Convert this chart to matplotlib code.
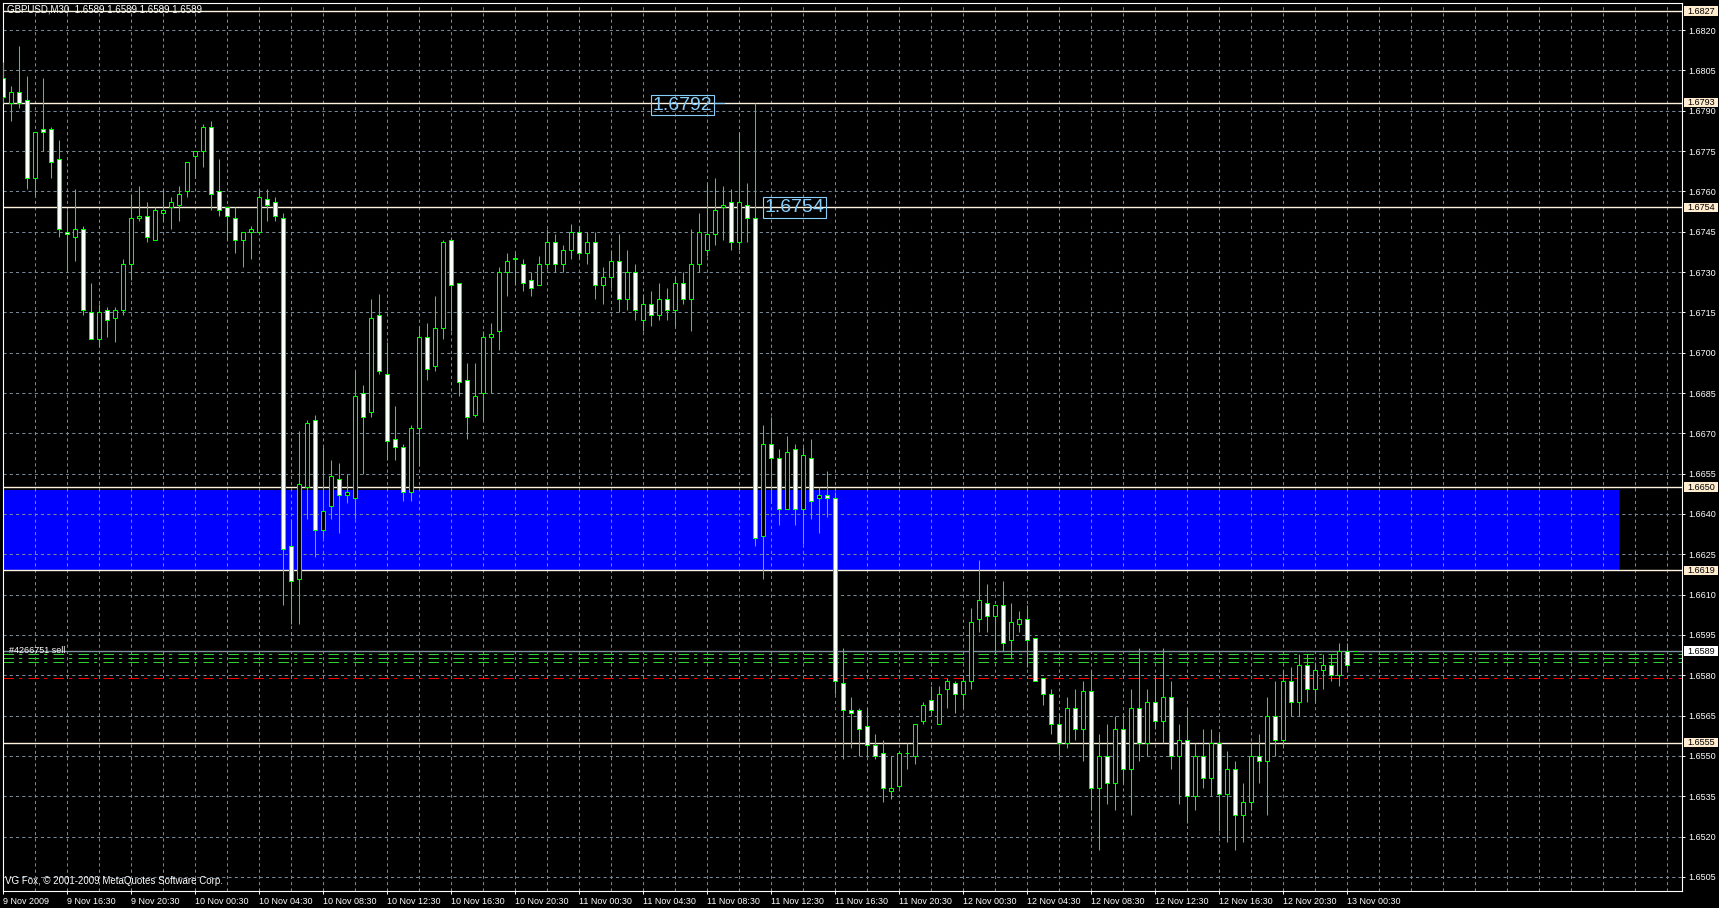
import numpy as np
import matplotlib.pyplot as plt
from matplotlib.patches import Rectangle
from matplotlib import transforms

plt.rcParams['font.family'] = ['Liberation Sans', 'DejaVu Sans']

# GBPUSD M30 bars, 9 Nov 12:30 .. 13 Nov 01:00
opens = [1.6802, 1.6793, 1.6797, 1.6794, 1.6765, 1.6783, 1.6783, 1.6772, 1.6745, 1.6743,
         1.6746, 1.6715, 1.6705, 1.6716, 1.6713, 1.6716, 1.6733, 1.6750, 1.6751, 1.6742,
         1.6752, 1.6754, 1.6755, 1.6760, 1.6773, 1.6775, 1.6784, 1.6760, 1.6754, 1.6750,
         1.6742, 1.6745, 1.6745, 1.6757, 1.6756, 1.6750, 1.6628, 1.6616, 1.6650, 1.6675,
         1.6634, 1.6643, 1.6653, 1.6647, 1.6646, 1.6685, 1.6678, 1.6714, 1.6692, 1.6668,
         1.6665, 1.6648, 1.6672, 1.6706, 1.6695, 1.6709, 1.6742, 1.6726, 1.6690, 1.6677,
         1.6685, 1.6706, 1.6708, 1.6730, 1.6735, 1.6733, 1.6727, 1.6725, 1.6733, 1.6741,
         1.6733, 1.6738, 1.6745, 1.6737, 1.6741, 1.6725, 1.6728, 1.6734, 1.6720, 1.6730,
         1.6712, 1.6718, 1.6714, 1.6720, 1.6716, 1.6726, 1.6720, 1.6733, 1.6738, 1.6744,
         1.6754, 1.6756, 1.6741, 1.6755, 1.6750, 1.6632, 1.6666, 1.6661, 1.6642, 1.6664,
         1.6642, 1.6661, 1.6646, 1.6647, 1.6646, 1.6577, 1.6567, 1.6567, 1.6561, 1.6554,
         1.6551, 1.6537, 1.6539, 1.6551, 1.6550, 1.6563, 1.6571, 1.6562, 1.6575, 1.6577,
         1.6573, 1.6578, 1.6601, 1.6607, 1.6602, 1.6606, 1.6593, 1.6599, 1.6601, 1.6594,
         1.6579, 1.6573, 1.6562, 1.6555, 1.6568, 1.6560, 1.6574, 1.6538, 1.6550, 1.6540,
         1.6560, 1.6545, 1.6568, 1.6555, 1.6570, 1.6563, 1.6572, 1.6550, 1.6556, 1.6535,
         1.6550, 1.6542, 1.6555, 1.6536, 1.6545, 1.6528, 1.6533, 1.6550, 1.6548, 1.6565,
         1.6556, 1.6578, 1.6570, 1.6584, 1.6575, 1.6582, 1.6584, 1.6580, 1.6589, 1.6589]
highs = [1.6808, 1.6799, 1.6814, 1.6803, 1.6782, 1.6802, 1.6784, 1.6779, 1.6753, 1.6761,
         1.6747, 1.6726, 1.6718, 1.6717, 1.6717, 1.6735, 1.6759, 1.6762, 1.6756, 1.6754,
         1.6761, 1.6758, 1.6762, 1.6771, 1.6775, 1.6785, 1.6786, 1.6772, 1.6754, 1.6754,
         1.6745, 1.6747, 1.6761, 1.6761, 1.6758, 1.6752, 1.6638, 1.6671, 1.6675, 1.6677,
         1.6665, 1.6660, 1.6659, 1.6655, 1.6693, 1.6688, 1.6720, 1.6722, 1.6704, 1.6680,
         1.6666, 1.6673, 1.6710, 1.6711, 1.6721, 1.6742, 1.6743, 1.6726, 1.6696, 1.6696,
         1.6708, 1.6711, 1.6732, 1.6737, 1.6737, 1.6735, 1.6730, 1.6736, 1.6746, 1.6744,
         1.6740, 1.6748, 1.6747, 1.6745, 1.6745, 1.6732, 1.6738, 1.6744, 1.6738, 1.6733,
         1.6722, 1.6723, 1.6726, 1.6724, 1.6728, 1.6730, 1.6746, 1.6752, 1.6763, 1.6765,
         1.6762, 1.6761, 1.6782, 1.6763, 1.6793, 1.6673, 1.6676, 1.6664, 1.6669, 1.6666,
         1.6665, 1.6668, 1.6650, 1.6656, 1.6648, 1.6590, 1.6572, 1.6568, 1.6568, 1.6558,
         1.6556, 1.6550, 1.6552, 1.6555, 1.6562, 1.6570, 1.6576, 1.6576, 1.6579, 1.6578,
         1.6580, 1.6605, 1.6623, 1.6614, 1.6606, 1.6615, 1.6607, 1.6604, 1.6606, 1.6594,
         1.6579, 1.6575, 1.6566, 1.6572, 1.6575, 1.6578, 1.6582, 1.6558, 1.6562, 1.6565,
         1.6566, 1.6575, 1.6590, 1.6575, 1.6580, 1.6590, 1.6578, 1.6562, 1.6568, 1.6555,
         1.6560, 1.6560, 1.6558, 1.6552, 1.6548, 1.6540, 1.6555, 1.6558, 1.6572, 1.6578,
         1.6582, 1.6583, 1.6588, 1.6588, 1.6585, 1.6588, 1.6588, 1.6592, 1.6592, 1.6589]
lows = [1.6793, 1.6786, 1.6791, 1.6761, 1.6758, 1.6775, 1.6765, 1.6743, 1.6730, 1.6734,
        1.6714, 1.6705, 1.6702, 1.6706, 1.6704, 1.6714, 1.6727, 1.6749, 1.6741, 1.6742,
        1.6749, 1.6746, 1.6749, 1.6758, 1.6765, 1.6769, 1.6753, 1.6751, 1.6742, 1.6737,
        1.6732, 1.6735, 1.6745, 1.6749, 1.6749, 1.6606, 1.6599, 1.6599, 1.6638, 1.6624,
        1.6631, 1.6638, 1.6633, 1.6644, 1.6638, 1.6655, 1.6676, 1.6692, 1.6660, 1.6660,
        1.6645, 1.6645, 1.6658, 1.6690, 1.6693, 1.6705, 1.6708, 1.6684, 1.6668, 1.6676,
        1.6675, 1.6685, 1.6701, 1.6721, 1.6725, 1.6723, 1.6721, 1.6725, 1.6731, 1.6730,
        1.6730, 1.6735, 1.6735, 1.6733, 1.6720, 1.6718, 1.6724, 1.6715, 1.6716, 1.6712,
        1.6708, 1.6710, 1.6712, 1.6712, 1.6710, 1.6718, 1.6708, 1.6730, 1.6736, 1.6740,
        1.6742, 1.6738, 1.6738, 1.6741, 1.6628, 1.6616, 1.6644, 1.6636, 1.6642, 1.6636,
        1.6629, 1.6638, 1.6633, 1.6639, 1.6573, 1.6549, 1.6553, 1.6550, 1.6550, 1.6549,
        1.6533, 1.6534, 1.6538, 1.6545, 1.6547, 1.6562, 1.6566, 1.6562, 1.6568, 1.6566,
        1.6568, 1.6575, 1.6596, 1.6596, 1.6588, 1.6589, 1.6586, 1.6596, 1.6583, 1.6578,
        1.6569, 1.6558, 1.6550, 1.6553, 1.6556, 1.6548, 1.6530, 1.6515, 1.6532, 1.6530,
        1.6540, 1.6528, 1.6548, 1.6550, 1.6560, 1.6555, 1.6545, 1.6532, 1.6525, 1.6530,
        1.6538, 1.6535, 1.6522, 1.6518, 1.6515, 1.6518, 1.6530, 1.6540, 1.6528, 1.6550,
        1.6553, 1.6565, 1.6565, 1.6570, 1.6570, 1.6575, 1.6578, 1.6576, 1.6582, 1.6589]
closes = [1.6795, 1.6797, 1.6793, 1.6765, 1.6782, 1.6782, 1.6771, 1.6746, 1.6744, 1.6746,
          1.6716, 1.6705, 1.6715, 1.6712, 1.6716, 1.6733, 1.6750, 1.6751, 1.6743, 1.6753,
          1.6753, 1.6756, 1.6759, 1.6771, 1.6775, 1.6784, 1.6759, 1.6753, 1.6751, 1.6742,
          1.6745, 1.6746, 1.6758, 1.6755, 1.6751, 1.6627, 1.6615, 1.6651, 1.6674, 1.6634,
          1.6641, 1.6654, 1.6647, 1.6648, 1.6684, 1.6676, 1.6713, 1.6693, 1.6667, 1.6665,
          1.6648, 1.6672, 1.6706, 1.6694, 1.6709, 1.6741, 1.6725, 1.6689, 1.6676, 1.6684,
          1.6706, 1.6707, 1.6730, 1.6734, 1.6735, 1.6726, 1.6724, 1.6733, 1.6741, 1.6733,
          1.6738, 1.6745, 1.6737, 1.6741, 1.6725, 1.6728, 1.6734, 1.6720, 1.6730, 1.6716,
          1.6718, 1.6714, 1.6720, 1.6716, 1.6726, 1.6720, 1.6733, 1.6745, 1.6744, 1.6753,
          1.6755, 1.6741, 1.6756, 1.6750, 1.6631, 1.6666, 1.6661, 1.6642, 1.6663, 1.6642,
          1.6662, 1.6645, 1.6647, 1.6646, 1.6578, 1.6567, 1.6566, 1.6560, 1.6554, 1.6550,
          1.6538, 1.6538, 1.6551, 1.6551, 1.6562, 1.6569, 1.6567, 1.6573, 1.6578, 1.6573,
          1.6578, 1.6600, 1.6608, 1.6602, 1.6606, 1.6592, 1.6600, 1.6601, 1.6593, 1.6578,
          1.6573, 1.6562, 1.6555, 1.6568, 1.6560, 1.6574, 1.6538, 1.6550, 1.6540, 1.6560,
          1.6545, 1.6568, 1.6555, 1.6570, 1.6563, 1.6572, 1.6550, 1.6556, 1.6535, 1.6550,
          1.6542, 1.6555, 1.6536, 1.6545, 1.6528, 1.6533, 1.6550, 1.6548, 1.6565, 1.6556,
          1.6578, 1.6570, 1.6584, 1.6575, 1.6582, 1.6584, 1.6580, 1.6589, 1.6584, 1.6589]

time_labels = ['9 Nov 2009', '9 Nov 16:30', '9 Nov 20:30', '10 Nov 00:30', '10 Nov 04:30',
               '10 Nov 08:30', '10 Nov 12:30', '10 Nov 16:30', '10 Nov 20:30', '11 Nov 00:30',
               '11 Nov 04:30', '11 Nov 08:30', '11 Nov 12:30', '11 Nov 16:30', '11 Nov 20:30',
               '12 Nov 00:30', '12 Nov 04:30', '12 Nov 08:30', '12 Nov 12:30', '12 Nov 16:30',
               '12 Nov 20:30', '13 Nov 00:30']
grid_prices = [1.6505 + 0.0015 * i for i in range(22)]
levels = [1.6827, 1.6793, 1.6754, 1.6650, 1.6619, 1.6555]
zone_low, zone_high = 1.6619, 1.6649
bid = 1.6589
order_lines = [1.65878, 1.65863, 1.65848]
stop_line = 1.6579

W, H = 1719, 908
fig = plt.figure(figsize=(W / 100, H / 100), dpi=100, facecolor='black')
ax = fig.add_axes([2.5 / W, 17 / H, 1679.5 / W, 888.5 / H], facecolor='black')

idx = np.arange(len(opens))
o = np.array(opens)
c = np.array(closes)

# background zone
ax.add_patch(Rectangle((-1, zone_low), 203, zone_high - zone_low, color='#0000FF', lw=0, zorder=0.5))

# grid
for p in grid_prices:
    ax.axhline(p, color='#778899', lw=0.75, ls=(0, (3, 3)), zorder=1)
for k in range(4, 210, 4):
    ax.axvline(k, color='#778899', lw=0.75, ls=(0, (3, 3)), zorder=1)

# horizontal levels
for p in levels:
    ax.axhline(p, color='#FFF3E0', lw=1.0, zorder=2)
ax.axhline(bid, color='#8090A0', lw=1.0, zorder=2)
for p in order_lines:
    ax.axhline(p, color='#32CD32', lw=0.75, ls=(0, (10, 5, 3, 6)), zorder=2)
ax.axhline(stop_line, color='#FF0000', lw=0.75, ls=(0, (10, 5, 3, 6)), zorder=2)

# candles
ax.vlines(idx, lows, highs, color='#00FF00', lw=0.75, zorder=3)
face = np.where(c > o, 'black', 'white')
height = np.maximum(np.abs(c - o), 0.00001)
ax.bar(idx, height, bottom=np.minimum(o, c), width=0.5, color=face,
       edgecolor='#00FF00', linewidth=0.75, zorder=4)

# text labels on chart
ax.text(84.9, 1.67921, '1.6792', fontsize=14, color='#87CEFA', ha='center', va='center', zorder=6,
        bbox=dict(boxstyle='square,pad=0.08', fc='none', ec='#87CEFA', lw=0.8))
ax.plot([88.9, 90.1], [1.6793, 1.6793], color='#87CEFA', lw=0.8, zorder=6)
ax.text(98.9, 1.67540, '1.6754', fontsize=14, color='#87CEFA', ha='center', va='center', zorder=6,
        bbox=dict(boxstyle='square,pad=0.08', fc='none', ec='#87CEFA', lw=0.8))
ax.text(0.7, 1.65892, '#4266751 sell', fontsize=6.5, color='white', ha='left', va='center', zorder=6)

ax.set_xlim(-0.0625, 209.875)
ax.set_ylim(1.649979, 1.683023)

for s in ax.spines.values():
    s.set_color('white')
    s.set_linewidth(0.8)

ax.yaxis.tick_right()
ax.set_yticks(grid_prices, [f'{p:.4f}' for p in grid_prices])
ax.tick_params(axis='y', colors='white', labelsize=6.5, length=2.2, pad=2, width=0.7)
ax.set_xticks(np.arange(0, 169, 8), time_labels)
ax.tick_params(axis='x', colors='white', labelsize=6.5, length=2.5, pad=1.5, width=0.7)
plt.setp(ax.get_xticklabels(), ha='left')

# price boxes on the right scale
tr = transforms.blended_transform_factory(ax.transAxes, ax.transData)
box_h = 9.5 / 26890
for p in levels + [bid]:
    fc = 'white' if p == bid else '#FFEBCD'
    ax.add_patch(Rectangle((1.0010, p - box_h / 2), 0.0206, box_h, transform=tr, fc=fc, ec='none',
                           clip_on=False, zorder=10))
    ax.text(1.00328, p, f'{p:.4f}', transform=tr, fontsize=6.5, color='black', ha='left', va='center',
            clip_on=False, zorder=11)

fig.text(7 / W, 1 - 10 / H, 'GBPUSD,M30  1.6589 1.6589 1.6589 1.6589', color='white', fontsize=7,
         ha='left', va='center')
fig.text(5 / W, 1 - 881 / H, 'VG Fox, \u00a9 2001-2009 MetaQuotes Software Corp.', color='white',
         fontsize=7, ha='left', va='center')

fig.savefig('out.png', dpi=100, facecolor='black')
